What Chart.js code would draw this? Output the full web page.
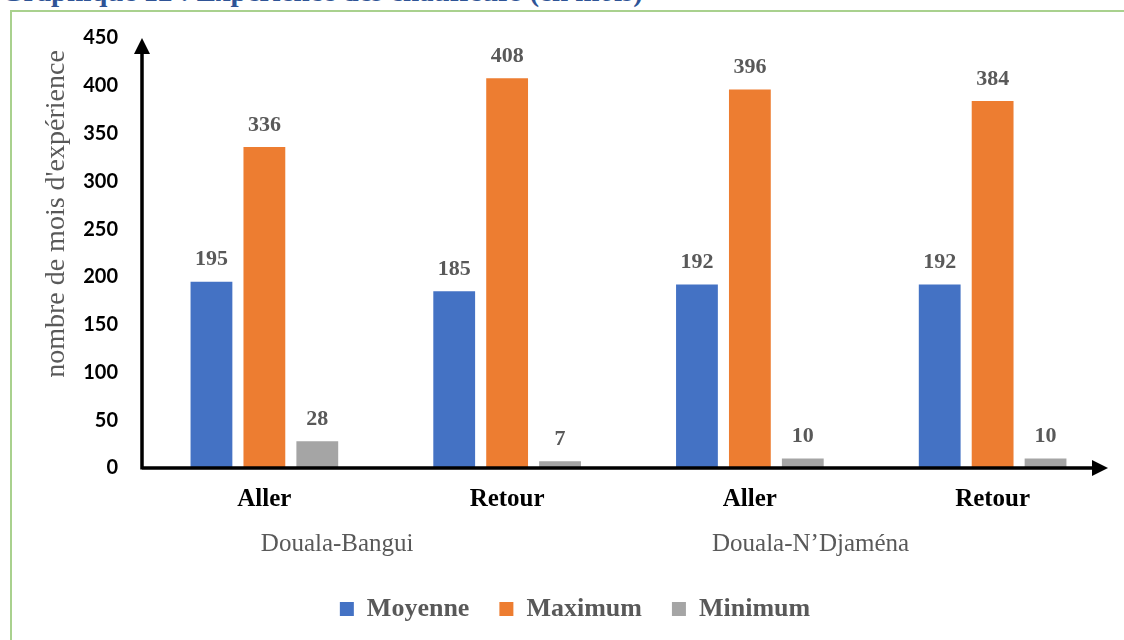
<!DOCTYPE html>
<html lang="fr">
<head>
<meta charset="utf-8">
<title>Expérience des chauffeurs</title>
<script src="https://cdn.jsdelivr.net/npm/chart.js@4.4.1/dist/chart.umd.min.js"></script>
<style>
  html, body { margin: 0; padding: 0; background: #fff; overflow: hidden; }
  .page { position: relative; width: 1124px; height: 640px; }
  .caption {
    position: absolute; top: -23px; left: 1px; white-space: nowrap;
    font: bold 29px/29px "Liberation Serif", serif; color: #2F5496;
  }
  .frame {
    position: absolute; top: 10px; left: 10px; right: 0; bottom: 0;
    border-top: 2px solid #A9D18E; border-left: 2px solid #A9D18E;
  }
  #chart { position: absolute; top: 0; left: 0; }
</style>
</head>
<body>
<div class="page">
  <div class="caption">Graphique 12 : Expérience des chauffeurs (en mois)</div>
  <div class="frame"></div>
  <canvas id="chart" width="1124" height="640"></canvas>
</div>
<script>
const trips = ["Aller", "Retour", "Aller", "Retour"];
const routes = ["Douala-Bangui", "Douala-N’Djaména"];
const moyenne = [195, 185, 192, 192];
const maximum = [336, 408, 396, 384];
const minimum = [28, 7, 10, 10];
const yTicks = [0, 50, 100, 150, 200, 250, 300, 350, 400, 450];

const SERIF = '"Liberation Serif", "Times New Roman", serif';
const GREY_TEXT = "#595959";

// axis lines with arrow heads, drawn over the bars
const arrowAxes = {
  id: "arrowAxes",
  afterDatasetsDraw(chart) {
    const { ctx, chartArea: a } = chart;
    const tipX = a.right - 6;
    ctx.save();
    ctx.strokeStyle = "#000";
    ctx.fillStyle = "#000";
    ctx.lineWidth = 3.5;
    ctx.beginPath();
    ctx.moveTo(a.left - 1, a.bottom);
    ctx.lineTo(tipX - 12, a.bottom);
    ctx.moveTo(a.left - 1, a.bottom + 1.5);
    ctx.lineTo(a.left - 1, a.top + 12);
    ctx.stroke();
    ctx.beginPath();
    ctx.moveTo(tipX, a.bottom);
    ctx.lineTo(tipX - 16, a.bottom - 8);
    ctx.lineTo(tipX - 16, a.bottom + 8);
    ctx.closePath();
    ctx.fill();
    ctx.beginPath();
    ctx.moveTo(a.left - 1, a.top);
    ctx.lineTo(a.left - 9, a.top + 16);
    ctx.lineTo(a.left + 7, a.top + 16);
    ctx.closePath();
    ctx.fill();
    ctx.restore();
  }
};

// value above each bar
const barValues = {
  id: "barValues",
  afterDatasetsDraw(chart) {
    const { ctx } = chart;
    ctx.save();
    ctx.font = "bold 22px " + SERIF;
    ctx.fillStyle = GREY_TEXT;
    ctx.textAlign = "center";
    ctx.textBaseline = "bottom";
    chart.data.datasets.forEach((ds, i) => {
      chart.getDatasetMeta(i).data.forEach((bar, j) => {
        ctx.fillText(ds.data[j], bar.x, bar.y - 11);
      });
    });
    ctx.restore();
  }
};

// route names under the trip labels, plus the rotated y title
const outerLabels = {
  id: "outerLabels",
  afterDraw(chart) {
    const { ctx, chartArea: a } = chart;
    const x = chart.scales.x;
    ctx.save();
    ctx.fillStyle = GREY_TEXT;
    ctx.textAlign = "center";
    ctx.textBaseline = "middle";
    ctx.font = "25px " + SERIF;
    ctx.fillText(routes[0], x.getPixelForValue(0.3), a.bottom + 76);
    ctx.fillText(routes[1], x.getPixelForValue(2.25), a.bottom + 76);

    ctx.translate(57, 214);
    ctx.rotate(-Math.PI / 2);
    ctx.font = "28px " + SERIF;
    ctx.fillText("nombre de mois d'expérience", 0, 0);
    ctx.restore();
  }
};

new Chart(document.getElementById("chart"), {
  type: "bar",
  data: {
    labels: trips,
    datasets: [
      { label: "Moyenne", data: moyenne, backgroundColor: "#4472C4" },
      { label: "Maximum", data: maximum, backgroundColor: "#ED7D31" },
      { label: "Minimum", data: minimum, backgroundColor: "#A5A5A5" },
    ],
  },
  options: {
    responsive: false,
    animation: false,
    layout: { padding: { top: 38, right: 10, bottom: 8, left: 36 } },
    datasets: { bar: { categoryPercentage: 0.654, barPercentage: 0.79 } },
    plugins: {
      tooltip: { enabled: false },
      legend: {
        position: "bottom",
        labels: {
          boxWidth: 14,
          boxHeight: 14,
          padding: 30,
          color: GREY_TEXT,
          font: { family: SERIF, size: 26, weight: "bold" },
        },
      },
    },
    scales: {
      x: {
        grid: { display: false },
        border: { display: false },
        ticks: { color: "#000", padding: 9, font: { family: SERIF, size: 25, weight: "bold" } },
        afterFit(scale) { scale.height = 98; },
      },
      y: {
        min: 0,
        max: 450,
        grid: { display: false, drawTicks: false },
        border: { display: false },
        afterBuildTicks(scale) { scale.ticks = yTicks.map(v => ({ value: v })); },
        ticks: { color: "#000", padding: 25, font: { family: "Lato", size: 20, weight: "bold" } },
        afterFit(scale) { scale.width = 107; },
      },
    },
  },
  plugins: [arrowAxes, barValues, outerLabels],
});
</script>
</body>
</html>
